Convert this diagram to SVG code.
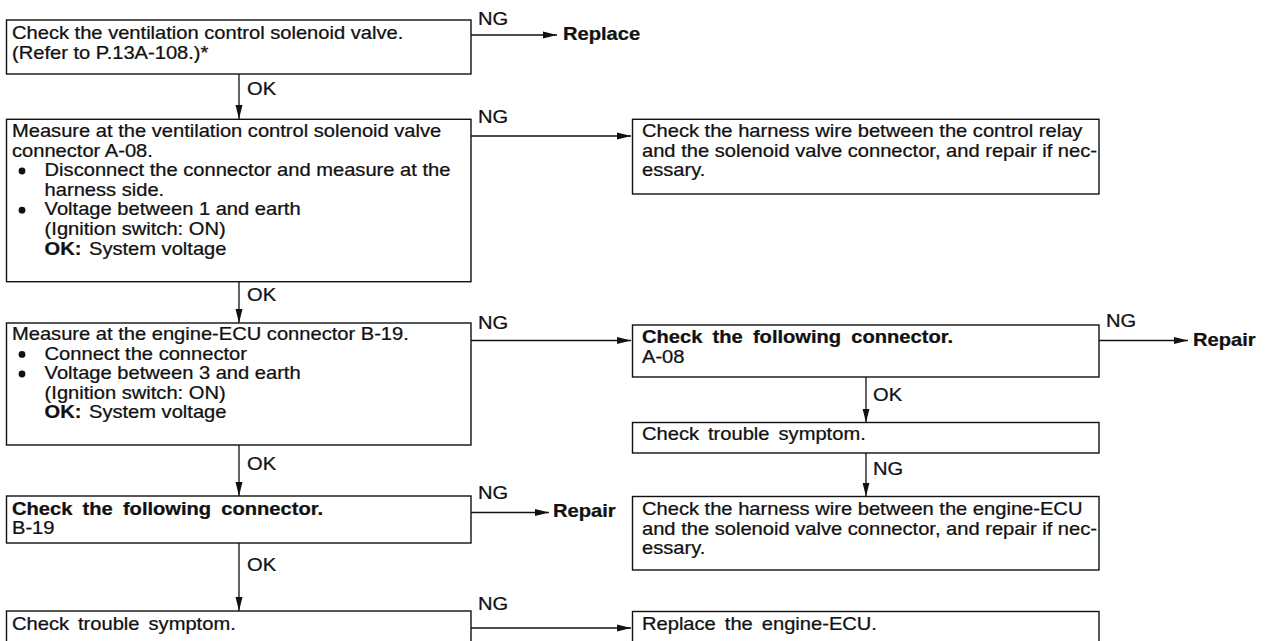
<svg xmlns="http://www.w3.org/2000/svg" width="1282" height="641" viewBox="0 0 1282 641">
  <defs>
    <style>
      .box { fill: #ffffff; stroke: #111111; stroke-width: 1.4; }
      .t { font-family: "Liberation Sans", Arial, Helvetica, sans-serif; font-size: 17.5px; fill: #111111; stroke: #111111; stroke-width: 0.25; }
      .b { font-weight: bold; word-spacing: 4px; }
      .wire { stroke: #111111; stroke-width: 1.3; fill: none; }
      .dot { fill: #111111; }
    </style>
    <marker id="arrow" markerUnits="userSpaceOnUse" markerWidth="15" markerHeight="8" refX="14" refY="4" orient="auto">
      <path d="M0,0.5 L14,4 L0,7.5 Z" fill="#111111"/>
    </marker>
  </defs>
  <rect width="1282" height="641" fill="#ffffff"/>

  <!-- left column: text is set 17.5px and widened 1.15x to the print proportions -->
  <g id="n1">
    <rect class="box" x="6.5" y="20" width="464.5" height="54"/>
    <text class="t" transform="translate(12 39) scale(1.15 1)">Check the ventilation control solenoid valve.</text>
    <text class="t" transform="translate(12 58.6) scale(1.15 1)">(Refer to P.13A-108.)*</text>
  </g>

  <g id="n2">
    <rect class="box" x="6.5" y="119.3" width="464.5" height="162.4"/>
    <text class="t" transform="translate(12 137) scale(1.15 1)">Measure at the ventilation control solenoid valve</text>
    <text class="t" transform="translate(12 156.6) scale(1.15 1)">connector A-08.</text>
    <circle class="dot" cx="22" cy="171" r="3.4"/>
    <text class="t" transform="translate(44.6 176.2) scale(1.15 1)">Disconnect the connector and measure at the</text>
    <text class="t" transform="translate(44.6 195.8) scale(1.15 1)">harness side.</text>
    <circle class="dot" cx="22" cy="210.2" r="3.4"/>
    <text class="t" transform="translate(44.6 215.4) scale(1.15 1)">Voltage between 1 and earth</text>
    <text class="t" transform="translate(44.6 235) scale(1.15 1)">(Ignition switch: ON)</text>
    <text class="t" transform="translate(44.6 254.6) scale(1.15 1)"><tspan font-weight="bold">OK:</tspan><tspan x="38.6">System voltage</tspan></text>
  </g>

  <g id="n3">
    <rect class="box" x="6.5" y="323" width="464.5" height="122"/>
    <text class="t" transform="translate(12 340) scale(1.15 1)">Measure at the engine-ECU connector B-19.</text>
    <circle class="dot" cx="22" cy="354.4" r="3.4"/>
    <text class="t" transform="translate(44.6 359.6) scale(1.15 1)">Connect the connector</text>
    <circle class="dot" cx="22" cy="374" r="3.4"/>
    <text class="t" transform="translate(44.6 379.2) scale(1.15 1)">Voltage between 3 and earth</text>
    <text class="t" transform="translate(44.6 398.8) scale(1.15 1)">(Ignition switch: ON)</text>
    <text class="t" transform="translate(44.6 418.4) scale(1.15 1)"><tspan font-weight="bold">OK:</tspan><tspan x="38.6">System voltage</tspan></text>
  </g>

  <g id="n4">
    <rect class="box" x="6.5" y="496" width="464.5" height="47"/>
    <text class="t b" transform="translate(12 514.5) scale(1.15 1)">Check the following connector.</text>
    <text class="t" transform="translate(12 534) scale(1.15 1)">B-19</text>
  </g>

  <g id="n5">
    <rect class="box" x="6.5" y="611" width="464.5" height="50"/>
    <text class="t" transform="translate(12 630) scale(1.15 1)" word-spacing="3">Check trouble symptom.</text>
  </g>

  <!-- right column -->
  <g id="r1">
    <rect class="box" x="632.5" y="119.3" width="466.5" height="74.7"/>
    <text class="t" transform="translate(642 137) scale(1.15 1)">Check the harness wire between the control relay</text>
    <text class="t" transform="translate(642 156.6) scale(1.15 1)">and the solenoid valve connector, and repair if nec-</text>
    <text class="t" transform="translate(642 176.2) scale(1.15 1)">essary.</text>
  </g>

  <g id="r2">
    <rect class="box" x="632.5" y="325" width="466.5" height="52"/>
    <text class="t b" transform="translate(642 343) scale(1.15 1)">Check the following connector.</text>
    <text class="t" transform="translate(642 362.6) scale(1.15 1)">A-08</text>
  </g>

  <g id="r3">
    <rect class="box" x="632.5" y="422.5" width="466.5" height="30.5"/>
    <text class="t" transform="translate(642 440) scale(1.15 1)" word-spacing="3">Check trouble symptom.</text>
  </g>

  <g id="r4">
    <rect class="box" x="632.5" y="496.5" width="466.5" height="73.5"/>
    <text class="t" transform="translate(642 515) scale(1.15 1)">Check the harness wire between the engine-ECU</text>
    <text class="t" transform="translate(642 534.6) scale(1.15 1)">and the solenoid valve connector, and repair if nec-</text>
    <text class="t" transform="translate(642 554.2) scale(1.15 1)">essary.</text>
  </g>

  <g id="r5">
    <rect class="box" x="632.5" y="611.5" width="466.5" height="50"/>
    <text class="t" transform="translate(642 630) scale(1.15 1)" word-spacing="3">Replace the engine-ECU.</text>
  </g>

  <!-- end results -->
  <g id="t-replace">
    <text class="t b" transform="translate(563 40) scale(1.15 1)">Replace</text>
  </g>
  <g id="t-repair-1">
    <text class="t b" transform="translate(553 517) scale(1.15 1)">Repair</text>
  </g>
  <g id="t-repair-2">
    <text class="t b" transform="translate(1193 346) scale(1.15 1)">Repair</text>
  </g>

  <!-- connectors -->
  <g id="connectors">
    <line class="wire" x1="471" y1="35" x2="557" y2="35" marker-end="url(#arrow)"/>
    <line class="wire" x1="239" y1="74" x2="239" y2="119" marker-end="url(#arrow)"/>
    <line class="wire" x1="471" y1="136" x2="631" y2="136" marker-end="url(#arrow)"/>
    <line class="wire" x1="239" y1="281.7" x2="239" y2="323" marker-end="url(#arrow)"/>
    <line class="wire" x1="471" y1="340.5" x2="631" y2="340.5" marker-end="url(#arrow)"/>
    <line class="wire" x1="239" y1="445" x2="239" y2="496" marker-end="url(#arrow)"/>
    <line class="wire" x1="471" y1="512.5" x2="549" y2="512.5" marker-end="url(#arrow)"/>
    <line class="wire" x1="239" y1="543" x2="239" y2="611" marker-end="url(#arrow)"/>
    <line class="wire" x1="471" y1="628" x2="631" y2="628" marker-end="url(#arrow)"/>
    <line class="wire" x1="1099" y1="340.5" x2="1188" y2="340.5" marker-end="url(#arrow)"/>
    <line class="wire" x1="866" y1="377" x2="866" y2="422.5" marker-end="url(#arrow)"/>
    <line class="wire" x1="866" y1="453" x2="866" y2="496.5" marker-end="url(#arrow)"/>

    <text class="t" transform="translate(478 25) scale(1.15 1)">NG</text>
    <text class="t" transform="translate(478 123) scale(1.15 1)">NG</text>
    <text class="t" transform="translate(478 329) scale(1.15 1)">NG</text>
    <text class="t" transform="translate(478 499) scale(1.15 1)">NG</text>
    <text class="t" transform="translate(478 610) scale(1.15 1)">NG</text>
    <text class="t" transform="translate(1106 327) scale(1.15 1)">NG</text>
    <text class="t" transform="translate(873 475) scale(1.15 1)">NG</text>
    <text class="t" transform="translate(247 95) scale(1.15 1)">OK</text>
    <text class="t" transform="translate(247 301) scale(1.15 1)">OK</text>
    <text class="t" transform="translate(247 470) scale(1.15 1)">OK</text>
    <text class="t" transform="translate(247 571) scale(1.15 1)">OK</text>
    <text class="t" transform="translate(873 401) scale(1.15 1)">OK</text>
  </g>
</svg>
